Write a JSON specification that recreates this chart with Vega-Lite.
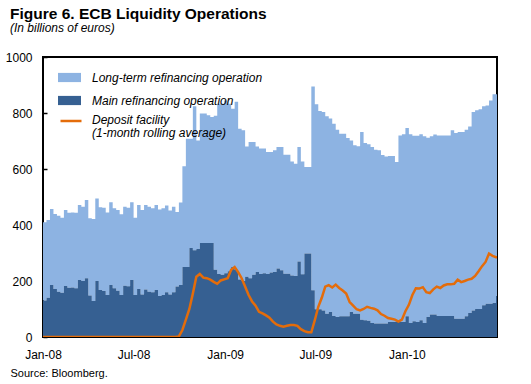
{
  "$schema": "https://vega.github.io/schema/vega-lite/v6.json",
  "width": 454,
  "height": 280,
  "autosize": {"type": "none"},
  "padding": {"left": 43, "top": 57, "right": 34, "bottom": 47},
  "background": "white",
  "title": {
    "text": "Figure 6. ECB Liquidity Operations",
    "subtitle": "(In billions of euros)",
    "anchor": "start",
    "frame": "group",
    "dx": -33,
    "offset": 17,
    "font": "Liberation Sans",
    "fontSize": 15.5,
    "fontWeight": "bold",
    "color": "black",
    "subtitleFont": "Liberation Sans",
    "subtitleFontSize": 12,
    "subtitleFontStyle": "italic",
    "subtitleColor": "black",
    "subtitlePadding": 1
  },
  "data": {
    "values": [
      {"d": "2008-01-01", "LTRO": 280, "MRO": 130, "DF": 0},
      {"d": "2008-01-08", "LTRO": 278, "MRO": 140, "DF": 0},
      {"d": "2008-01-15", "LTRO": 271, "MRO": 186, "DF": 0},
      {"d": "2008-01-22", "LTRO": 268, "MRO": 171, "DF": 0},
      {"d": "2008-01-29", "LTRO": 271, "MRO": 162, "DF": 0},
      {"d": "2008-02-05", "LTRO": 268, "MRO": 158, "DF": 0},
      {"d": "2008-02-12", "LTRO": 272, "MRO": 182, "DF": 0},
      {"d": "2008-02-19", "LTRO": 268, "MRO": 176, "DF": 0},
      {"d": "2008-02-26", "LTRO": 268, "MRO": 177, "DF": 0},
      {"d": "2008-03-04", "LTRO": 270, "MRO": 174, "DF": 0},
      {"d": "2008-03-11", "LTRO": 267, "MRO": 204, "DF": 0},
      {"d": "2008-03-18", "LTRO": 265, "MRO": 200, "DF": 0},
      {"d": "2008-03-25", "LTRO": 279, "MRO": 210, "DF": 0},
      {"d": "2008-04-01", "LTRO": 276, "MRO": 148, "DF": 0},
      {"d": "2008-04-08", "LTRO": 292, "MRO": 129, "DF": 0},
      {"d": "2008-04-15", "LTRO": 295, "MRO": 200, "DF": 0},
      {"d": "2008-04-22", "LTRO": 295, "MRO": 168, "DF": 0},
      {"d": "2008-04-29", "LTRO": 298, "MRO": 164, "DF": 0},
      {"d": "2008-05-06", "LTRO": 295, "MRO": 150, "DF": 0},
      {"d": "2008-05-13", "LTRO": 295, "MRO": 186, "DF": 0},
      {"d": "2008-05-20", "LTRO": 286, "MRO": 174, "DF": 0},
      {"d": "2008-05-27", "LTRO": 289, "MRO": 165, "DF": 0},
      {"d": "2008-06-03", "LTRO": 288, "MRO": 150, "DF": 0},
      {"d": "2008-06-10", "LTRO": 282, "MRO": 183, "DF": 0},
      {"d": "2008-06-17", "LTRO": 281, "MRO": 181, "DF": 0},
      {"d": "2008-06-24", "LTRO": 277, "MRO": 204, "DF": 0},
      {"d": "2008-07-01", "LTRO": 276, "MRO": 150, "DF": 0},
      {"d": "2008-07-08", "LTRO": 300, "MRO": 171, "DF": 0},
      {"d": "2008-07-15", "LTRO": 302, "MRO": 152, "DF": 0},
      {"d": "2008-07-22", "LTRO": 301, "MRO": 170, "DF": 0},
      {"d": "2008-07-29", "LTRO": 303, "MRO": 162, "DF": 0},
      {"d": "2008-08-05", "LTRO": 300, "MRO": 160, "DF": 0},
      {"d": "2008-08-12", "LTRO": 303, "MRO": 168, "DF": 0},
      {"d": "2008-08-19", "LTRO": 309, "MRO": 146, "DF": 0},
      {"d": "2008-08-26", "LTRO": 310, "MRO": 150, "DF": 0},
      {"d": "2008-09-02", "LTRO": 310, "MRO": 160, "DF": 0},
      {"d": "2008-09-09", "LTRO": 300, "MRO": 152, "DF": 0},
      {"d": "2008-09-16", "LTRO": 305, "MRO": 160, "DF": 0},
      {"d": "2008-09-23", "LTRO": 266, "MRO": 180, "DF": 0},
      {"d": "2008-09-30", "LTRO": 294, "MRO": 186, "DF": 2},
      {"d": "2008-10-07", "LTRO": 360, "MRO": 250, "DF": 25},
      {"d": "2008-10-14", "LTRO": 458, "MRO": 250, "DF": 62},
      {"d": "2008-10-21", "LTRO": 390, "MRO": 318, "DF": 100},
      {"d": "2008-10-28", "LTRO": 514, "MRO": 310, "DF": 155},
      {"d": "2008-11-04", "LTRO": 388, "MRO": 314, "DF": 215},
      {"d": "2008-11-11", "LTRO": 462, "MRO": 336, "DF": 225},
      {"d": "2008-11-18", "LTRO": 462, "MRO": 336, "DF": 212},
      {"d": "2008-11-25", "LTRO": 456, "MRO": 336, "DF": 210},
      {"d": "2008-12-02", "LTRO": 450, "MRO": 336, "DF": 205},
      {"d": "2008-12-09", "LTRO": 550, "MRO": 240, "DF": 197},
      {"d": "2008-12-16", "LTRO": 608, "MRO": 225, "DF": 190},
      {"d": "2008-12-23", "LTRO": 611, "MRO": 222, "DF": 202},
      {"d": "2008-12-30", "LTRO": 617, "MRO": 228, "DF": 206},
      {"d": "2009-01-06", "LTRO": 598, "MRO": 235, "DF": 210},
      {"d": "2009-01-13", "LTRO": 565, "MRO": 250, "DF": 240},
      {"d": "2009-01-20", "LTRO": 600, "MRO": 240, "DF": 250},
      {"d": "2009-01-27", "LTRO": 539, "MRO": 205, "DF": 232},
      {"d": "2009-02-03", "LTRO": 538, "MRO": 200, "DF": 210},
      {"d": "2009-02-10", "LTRO": 465, "MRO": 215, "DF": 180},
      {"d": "2009-02-17", "LTRO": 486, "MRO": 210, "DF": 150},
      {"d": "2009-02-24", "LTRO": 474, "MRO": 222, "DF": 127},
      {"d": "2009-03-03", "LTRO": 448, "MRO": 232, "DF": 112},
      {"d": "2009-03-10", "LTRO": 448, "MRO": 225, "DF": 90},
      {"d": "2009-03-17", "LTRO": 445, "MRO": 228, "DF": 84},
      {"d": "2009-03-24", "LTRO": 436, "MRO": 225, "DF": 77},
      {"d": "2009-03-31", "LTRO": 431, "MRO": 230, "DF": 69},
      {"d": "2009-04-07", "LTRO": 435, "MRO": 232, "DF": 55},
      {"d": "2009-04-14", "LTRO": 434, "MRO": 245, "DF": 45},
      {"d": "2009-04-21", "LTRO": 441, "MRO": 238, "DF": 40},
      {"d": "2009-04-28", "LTRO": 425, "MRO": 226, "DF": 37},
      {"d": "2009-05-05", "LTRO": 425, "MRO": 226, "DF": 40},
      {"d": "2009-05-12", "LTRO": 407, "MRO": 220, "DF": 43},
      {"d": "2009-05-19", "LTRO": 401, "MRO": 218, "DF": 43},
      {"d": "2009-05-26", "LTRO": 409, "MRO": 270, "DF": 40},
      {"d": "2009-06-02", "LTRO": 403, "MRO": 224, "DF": 28},
      {"d": "2009-06-09", "LTRO": 309, "MRO": 298, "DF": 21},
      {"d": "2009-06-16", "LTRO": 309, "MRO": 298, "DF": 17},
      {"d": "2009-06-23", "LTRO": 728, "MRO": 167, "DF": 17},
      {"d": "2009-06-30", "LTRO": 732, "MRO": 99, "DF": 60},
      {"d": "2009-07-07", "LTRO": 708, "MRO": 99, "DF": 108},
      {"d": "2009-07-14", "LTRO": 709, "MRO": 95, "DF": 140},
      {"d": "2009-07-21", "LTRO": 705, "MRO": 83, "DF": 180},
      {"d": "2009-07-28", "LTRO": 691, "MRO": 89, "DF": 185},
      {"d": "2009-08-04", "LTRO": 687, "MRO": 75, "DF": 177},
      {"d": "2009-08-11", "LTRO": 669, "MRO": 71, "DF": 187},
      {"d": "2009-08-18", "LTRO": 652, "MRO": 74, "DF": 175},
      {"d": "2009-08-25", "LTRO": 652, "MRO": 74, "DF": 166},
      {"d": "2009-09-01", "LTRO": 637, "MRO": 74, "DF": 155},
      {"d": "2009-09-08", "LTRO": 613, "MRO": 89, "DF": 125},
      {"d": "2009-09-15", "LTRO": 602, "MRO": 83, "DF": 112},
      {"d": "2009-09-22", "LTRO": 598, "MRO": 83, "DF": 99},
      {"d": "2009-09-29", "LTRO": 670, "MRO": 62, "DF": 95},
      {"d": "2009-10-06", "LTRO": 633, "MRO": 60, "DF": 100},
      {"d": "2009-10-13", "LTRO": 630, "MRO": 58, "DF": 108},
      {"d": "2009-10-20", "LTRO": 629, "MRO": 50, "DF": 104},
      {"d": "2009-10-27", "LTRO": 621, "MRO": 48, "DF": 101},
      {"d": "2009-11-03", "LTRO": 619, "MRO": 48, "DF": 95},
      {"d": "2009-11-10", "LTRO": 602, "MRO": 48, "DF": 82},
      {"d": "2009-11-17", "LTRO": 597, "MRO": 48, "DF": 76},
      {"d": "2009-11-24", "LTRO": 592, "MRO": 54, "DF": 68},
      {"d": "2009-12-01", "LTRO": 592, "MRO": 54, "DF": 65},
      {"d": "2009-12-08", "LTRO": 571, "MRO": 54, "DF": 62},
      {"d": "2009-12-15", "LTRO": 666, "MRO": 54, "DF": 55},
      {"d": "2009-12-22", "LTRO": 670, "MRO": 54, "DF": 62},
      {"d": "2009-12-29", "LTRO": 672, "MRO": 74, "DF": 92},
      {"d": "2010-01-05", "LTRO": 674, "MRO": 50, "DF": 115},
      {"d": "2010-01-12", "LTRO": 663, "MRO": 56, "DF": 150},
      {"d": "2010-01-19", "LTRO": 665, "MRO": 54, "DF": 174},
      {"d": "2010-01-26", "LTRO": 664, "MRO": 60, "DF": 173},
      {"d": "2010-02-02", "LTRO": 667, "MRO": 50, "DF": 178},
      {"d": "2010-02-09", "LTRO": 641, "MRO": 71, "DF": 160},
      {"d": "2010-02-16", "LTRO": 637, "MRO": 80, "DF": 157},
      {"d": "2010-02-23", "LTRO": 643, "MRO": 80, "DF": 170},
      {"d": "2010-03-02", "LTRO": 645, "MRO": 75, "DF": 180},
      {"d": "2010-03-09", "LTRO": 645, "MRO": 75, "DF": 175},
      {"d": "2010-03-16", "LTRO": 645, "MRO": 75, "DF": 184},
      {"d": "2010-03-23", "LTRO": 645, "MRO": 75, "DF": 188},
      {"d": "2010-03-30", "LTRO": 663, "MRO": 75, "DF": 188},
      {"d": "2010-04-06", "LTRO": 664, "MRO": 65, "DF": 190},
      {"d": "2010-04-13", "LTRO": 667, "MRO": 65, "DF": 205},
      {"d": "2010-04-20", "LTRO": 667, "MRO": 65, "DF": 196},
      {"d": "2010-04-27", "LTRO": 666, "MRO": 74, "DF": 200},
      {"d": "2010-05-04", "LTRO": 666, "MRO": 86, "DF": 205},
      {"d": "2010-05-11", "LTRO": 709, "MRO": 95, "DF": 208},
      {"d": "2010-05-18", "LTRO": 710, "MRO": 100, "DF": 218},
      {"d": "2010-05-25", "LTRO": 713, "MRO": 100, "DF": 235},
      {"d": "2010-06-01", "LTRO": 711, "MRO": 113, "DF": 253},
      {"d": "2010-06-08", "LTRO": 708, "MRO": 119, "DF": 268},
      {"d": "2010-06-15", "LTRO": 726, "MRO": 119, "DF": 298},
      {"d": "2010-06-22", "LTRO": 746, "MRO": 121, "DF": 290},
      {"d": "2010-06-29", "LTRO": 721, "MRO": 146, "DF": 285},
      {"d": "2010-07-06", "LTRO": 721, "MRO": 146, "DF": 285}
    ]
  },
  "layer": [
    {
      "transform": [{"fold": ["LTRO", "MRO"], "as": ["series", "value"]}],
      "mark": {"type": "area", "interpolate": "step-after", "clip": true, "opacity": 1},
      "encoding": {
        "x": {
          "field": "d", "type": "temporal",
          "scale": {"type": "utc", "domain": [{"year": 2008, "month": 1, "date": 1, "utc": true}, {"year": 2010, "month": 7, "date": 1, "utc": true}]},
          "axis": {
            "values": [
              {"year": 2008, "month": 1, "date": 1, "utc": true},
              {"year": 2008, "month": 7, "date": 1, "utc": true},
              {"year": 2009, "month": 1, "date": 1, "utc": true},
              {"year": 2009, "month": 7, "date": 1, "utc": true},
              {"year": 2010, "month": 1, "date": 1, "utc": true}
            ],
            "format": "%b-%y",
            "labelFlush": false,
            "labelOverlap": false,
            "title": "Source: Bloomberg.",
            "titleX": -33,
            "titleY": 39,
            "titleAlign": "left",
            "titleAnchor": null,
            "titleBaseline": "alphabetic",
            "titleFont": "Liberation Sans",
            "titleFontSize": 11,
            "titleFontWeight": "normal",
            "titleColor": "black",
            "tickSize": -4,
            "labelPadding": 16
          }
        },
        "y": {
          "field": "value", "type": "quantitative", "stack": "zero",
          "scale": {"domain": [0, 1000], "nice": false},
          "axis": {"values": [0, 200, 400, 600, 800, 1000], "format": "d", "title": null, "tickSize": -4, "labelPadding": 15}
        },
        "color": {
          "field": "series", "type": "nominal",
          "scale": {"domain": ["LTRO", "MRO"], "range": ["#8DB3E2", "#366092"]},
          "legend": {
            "orient": "none",
            "legendX": 15,
            "legendY": 9,
            "title": null,
            "padding": 0,
            "symbolType": "M-1,-0.4H1V0.4H-1Z",
            "symbolSize": 529,
            "symbolStrokeWidth": 0,
            "symbolOpacity": 1,
            "labelOffset": 11,
            "labelFont": "Liberation Sans",
            "labelFontSize": 12,
            "labelFontStyle": "italic",
            "labelColor": "black",
            "labelLimit": 400,
            "rowPadding": 5,
            "labelExpr": "datum.label == 'LTRO' ? 'Long-term refinancing operation' : 'Main refinancing operation'"
          }
        },
        "order": {"field": "series", "sort": "descending"}
      }
    },
    {
      "mark": {"type": "line", "clip": true, "strokeWidth": 2.5},
      "encoding": {
        "x": {"field": "d", "type": "temporal"},
        "y": {"field": "DF", "type": "quantitative"},
        "stroke": {
          "datum": "DF",
          "scale": {"domain": ["DF"], "range": ["#E46C0A"]},
          "legend": {
            "orient": "none",
            "legendX": 16,
            "legendY": 52,
            "title": null,
            "padding": 0,
            "symbolType": "stroke",
            "symbolSize": 441,
            "symbolStrokeWidth": 2.5,
            "labelOffset": 9,
            "labelFont": "Liberation Sans",
            "labelFontSize": 12,
            "labelFontStyle": "italic",
            "labelColor": "black",
            "labelLimit": 400,
            "labelBaseline": "top",
            "labelExpr": "['Deposit facility', '(1-month rolling average)']",
            "encode": {"labels": {"update": {"lineHeight": {"value": 13}, "dy": {"value": -6}}}}
          }
        }
      }
    }
  ],
  "config": {
    "view": {"stroke": "black", "strokeWidth": 2},
    "font": "Liberation Sans",
    "axis": {
      "labelFont": "Liberation Sans",
      "labelFontSize": 12,
      "labelColor": "black",
      "tickColor": "black",
      "tickWidth": 1.5,
      "domain": false,
      "grid": false
    }
  }
}
